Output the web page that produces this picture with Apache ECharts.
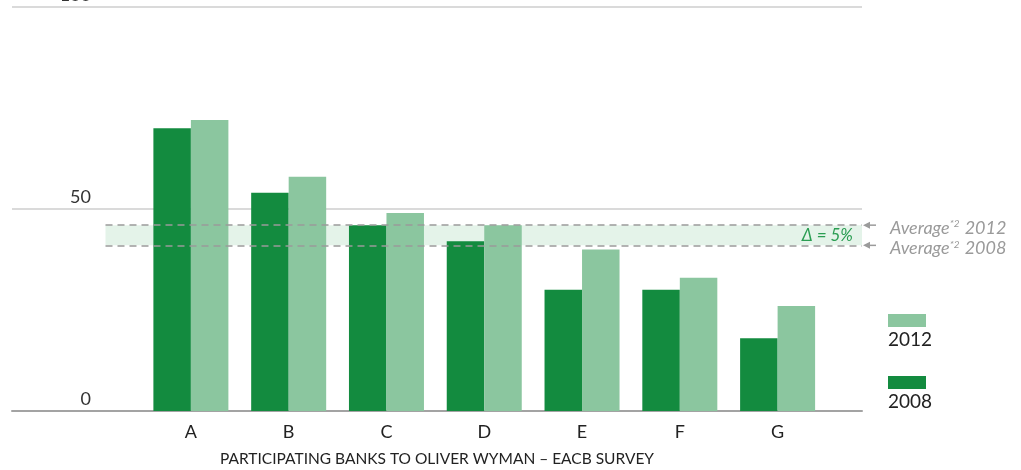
<!DOCTYPE html>
<html>
<head>
<meta charset="utf-8">
<script src="https://cdn.jsdelivr.net/npm/echarts@6/dist/echarts.min.js"></script>
<style>
  html, body { margin: 0; padding: 0; background: #ffffff; }
  #chart { width: 1021px; height: 470px; }
</style>
</head>
<body>
<div id="chart"></div>
<script>
// Survey scores per participating bank
const categories = ['A', 'B', 'C', 'D', 'E', 'F', 'G'];
const values2008 = [70, 54, 46, 42, 30, 30, 18];
const values2012 = [72, 58, 49, 46, 40, 33, 26];

// Averages across banks (year, value)
const avgYears = ['2012', '2008'];
const avgValues = [46, 41];

// Value axis ticks
const yTicks = [0, 50, 100];

const COLOR_2008 = '#138b3f';
const COLOR_2012 = '#8bc69f';
const FONT = 'Lato, "Open Sans", sans-serif';

const delta = avgValues[0] - avgValues[1];

const chart = echarts.init(document.getElementById('chart'));

const option = {
  animation: false,
  textStyle: { fontFamily: FONT },
  grid: [
    // full-width frame carrying gridlines, baseline and averages
    { left: 12, width: 850, top: 7, height: 404, containLabel: false, outerBoundsMode: 'none' },
    // bar area
    { left: 142, width: 684.5, top: 7, height: 404, containLabel: false, outerBoundsMode: 'none' }
  ],
  xAxis: [
    {
      gridIndex: 0, type: 'value', min: 0, max: 100,
      axisLine: { show: true, lineStyle: { color: '#a3a3a3', width: 2 } },
      axisTick: { show: false }, axisLabel: { show: false }, splitLine: { show: false },
      name: 'PARTICIPATING BANKS TO OLIVER WYMAN \u2013 EACB SURVEY',
      nameLocation: 'middle', nameGap: 40,
      nameTextStyle: { fontSize: 15.5, color: '#222', fontFamily: FONT }
    },
    {
      gridIndex: 1, type: 'category', data: categories,
      axisLine: { show: false }, axisTick: { show: false },
      axisLabel: { fontSize: 18, color: '#222', margin: 12, fontFamily: FONT }
    }
  ],
  yAxis: [
    {
      gridIndex: 0, type: 'value', min: yTicks[0], max: yTicks[yTicks.length - 1],
      interval: yTicks[1] - yTicks[0],
      axisLine: { show: false }, axisTick: { show: false },
      splitLine: { show: true, lineStyle: { color: '#dadada', width: 2 } },
      axisLabel: {
        inside: true, align: 'right', margin: 79, verticalAlign: 'bottom',
        padding: [0, 0, 3, 0],
        fontSize: 18, color: '#333', fontFamily: FONT
      }
    },
    {
      gridIndex: 1, type: 'value', min: yTicks[0], max: yTicks[yTicks.length - 1],
      show: false
    }
  ],
  legend: {
    orient: 'vertical', left: 878, top: 309,
    itemWidth: 0, itemHeight: 0, itemGap: 27,
    selectedMode: false,
    data: ['2012', '2008'],
    formatter: name => `{s${name}|}\n{t|${name}}`,
    textStyle: {
      rich: {
        s2012: { backgroundColor: COLOR_2012, width: 38, height: 13 },
        s2008: { backgroundColor: COLOR_2008, width: 38, height: 13 },
        t: { fontSize: 19, color: '#222', fontFamily: FONT, lineHeight: 25 }
      }
    }
  },
  series: [
    {
      // carrier for the average band and lines
      type: 'line', xAxisIndex: 0, yAxisIndex: 0, data: [], z: 1, silent: true,
      markArea: {
        silent: true,
        itemStyle: { color: '#e4f3e9' },
        label: {
          show: true, position: 'insideRight', distance: 9,
          formatter: `\u0394 = ${delta}%`,
          color: '#2a9d52', fontStyle: 'italic', fontSize: 17, fontFamily: FONT
        },
        data: [[{ coord: [11, avgValues[1]] }, { coord: [100, avgValues[0]] }]]
      },
      markLine: {
        silent: true, symbol: ['none', 'none'],
        lineStyle: { type: [7, 5], color: '#9b9b9b', width: 1.5 },
        label: {
          show: true, position: 'end', distance: 28,
          padding: [6, 0, 0, 0],
          formatter: p => `Average{sup|*2} ${avgYears[p.dataIndex]}`,
          color: '#9a9a9a', fontStyle: 'italic', fontSize: 18, fontFamily: FONT,
          rich: {
            sup: { fontSize: 10, verticalAlign: 'top', color: '#9a9a9a', fontStyle: 'italic', fontFamily: FONT, padding: [0, 1, 8, 0] }
          }
        },
        data: avgValues.map(v => [{ coord: [11, v] }, { coord: [100, v] }])
      }
    },
    {
      name: '2008', type: 'bar', xAxisIndex: 1, yAxisIndex: 1, z: 3,
      data: values2008, barGap: '0%', barCategoryGap: '23.3%',
      itemStyle: { color: COLOR_2008 }
    },
    {
      name: '2012', type: 'bar', xAxisIndex: 1, yAxisIndex: 1, z: 3,
      data: values2012, barGap: '0%', barCategoryGap: '23.3%',
      itemStyle: { color: COLOR_2012 }
    }
  ]
};

chart.setOption(option);

// Small arrows pointing from the average labels back to their lines
const xEnd = chart.convertToPixel({ xAxisIndex: 0 }, 100);
const arrows = avgValues.map(v => {
  const y = chart.convertToPixel({ yAxisIndex: 0 }, v);
  return {
    type: 'group', silent: true,
    children: [
      { type: 'line', shape: { x1: xEnd + 5, y1: y, x2: xEnd + 14, y2: y }, style: { stroke: '#9b9b9b', lineWidth: 1.5 } },
      { type: 'polygon', shape: { points: [[xEnd + 1, y], [xEnd + 8, y - 3.5], [xEnd + 8, y + 3.5]] }, style: { fill: '#9b9b9b' } }
    ]
  };
});
chart.setOption({ graphic: arrows });
</script>
</body>
</html>
